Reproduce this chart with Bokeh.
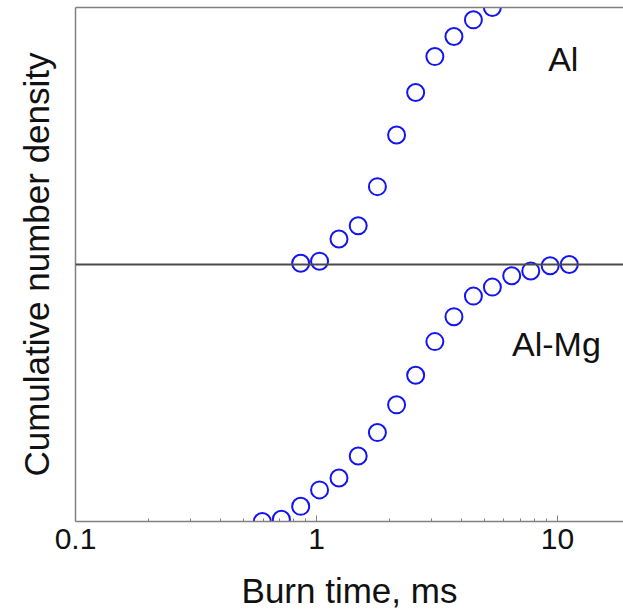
from bokeh.plotting import figure
from bokeh.models import Range1d, FixedTicker, LinearAxis, Span, Label
from bokeh.embed import file_html
from bokeh.resources import INLINE

# Burn time (ms) and cumulative number density for each powder
al_time = [0.86, 1.03, 1.24, 1.49, 1.79, 2.15, 2.58, 3.10, 3.72, 4.48, 5.37]
al_cum = [0.005, 0.013, 0.099, 0.151, 0.303, 0.504, 0.669, 0.809, 0.887, 0.952, 1.0]

almg_time = [0.596, 0.715, 0.860, 1.03, 1.24, 1.49, 1.79, 2.15, 2.58, 3.10,
             3.72, 4.48, 5.37, 6.46, 7.75, 9.33, 11.2]
almg_cum = [0.0, 0.009, 0.059, 0.123, 0.169, 0.255, 0.346, 0.454, 0.569, 0.700,
            0.797, 0.877, 0.912, 0.956, 0.975, 0.995, 1.0]

tick_values = [0.1, 1, 10]
tick_labels = ["0.1", "1", "10"]
minor_values = [0.2, 0.3, 0.4, 0.5, 0.6, 0.7, 0.8, 0.9,
                2, 3, 4, 5, 6, 7, 8, 9]

FONT = "Liberation Sans"
AXIS_GREY = "#808080"
MARKER_BLUE = "#1414f0"

p = figure(width=623, height=615, x_axis_type="log",
           x_range=Range1d(0.1, 18.8), y_range=Range1d(0, 2),
           output_backend="svg", toolbar_location=None,
           min_border_left=75, min_border_right=0,
           min_border_top=7, min_border_bottom=94)
p.outline_line_color = None
p.grid.visible = False
p.background_fill_color = "white"
p.border_fill_color = "white"

# bottom axis: burn time
xa = p.xaxis[0]
xa.ticker = FixedTicker(ticks=tick_values, minor_ticks=minor_values)
xa.major_label_overrides = dict(zip(tick_values, tick_labels))
xa.axis_label = "Burn time, ms"
xa.axis_label_text_font = FONT
xa.axis_label_text_font_style = "normal"
xa.axis_label_text_font_size = "35px"
xa.axis_label_text_color = "#111111"
xa.axis_label_standoff = 19
xa.major_label_text_font = FONT
xa.major_label_text_font_size = "30px"
xa.major_label_text_color = "#111111"
xa.major_label_standoff = 7
xa.axis_line_color = AXIS_GREY
xa.axis_line_width = 1.5
xa.major_tick_line_color = AXIS_GREY
xa.minor_tick_line_color = AXIS_GREY
xa.major_tick_in = 6
xa.major_tick_out = 0
xa.minor_tick_in = 3
xa.minor_tick_out = 0

# left axis: no ticks, label only
ya = p.yaxis[0]
ya.ticker = FixedTicker(ticks=[], minor_ticks=[])
ya.axis_label = "Cumulative number density"
ya.axis_label_text_font = FONT
ya.axis_label_text_font_style = "normal"
ya.axis_label_text_font_size = "35px"
ya.axis_label_text_color = "#111111"
ya.axis_label_standoff = 20
ya.axis_line_color = AXIS_GREY
ya.axis_line_width = 1.5
ya.major_tick_line_color = None
ya.minor_tick_line_color = None

# top border line
top = LinearAxis(ticker=FixedTicker(ticks=[], minor_ticks=[]),
                 axis_line_color=AXIS_GREY, axis_line_width=1.5,
                 major_tick_line_color=None, minor_tick_line_color=None,
                 major_label_text_font_size="0px")
p.add_layout(top, "above")

# divider between the two stacked distributions
p.add_layout(Span(location=1, dimension="width", line_color="#4a4a4a",
                  line_width=2))

# Al-Mg in the lower half, Al shifted into the upper half
p.scatter(almg_time, almg_cum, marker="circle", size=17,
          fill_color=None, line_color=MARKER_BLUE, line_width=2)
p.scatter(al_time, [1 + v for v in al_cum], marker="circle", size=17,
          fill_color=None, line_color=MARKER_BLUE, line_width=2)

p.add_layout(Label(x=9.15, y=1.80, text="Al", text_font=FONT,
                   text_font_size="34px", text_color="#111111",
                   text_baseline="alphabetic"))
p.add_layout(Label(x=6.48, y=0.69, text="Al-Mg", text_font=FONT,
                   text_font_size="34px", text_color="#111111",
                   text_baseline="alphabetic"))

open("out.html", "w").write(file_html(p, INLINE))
